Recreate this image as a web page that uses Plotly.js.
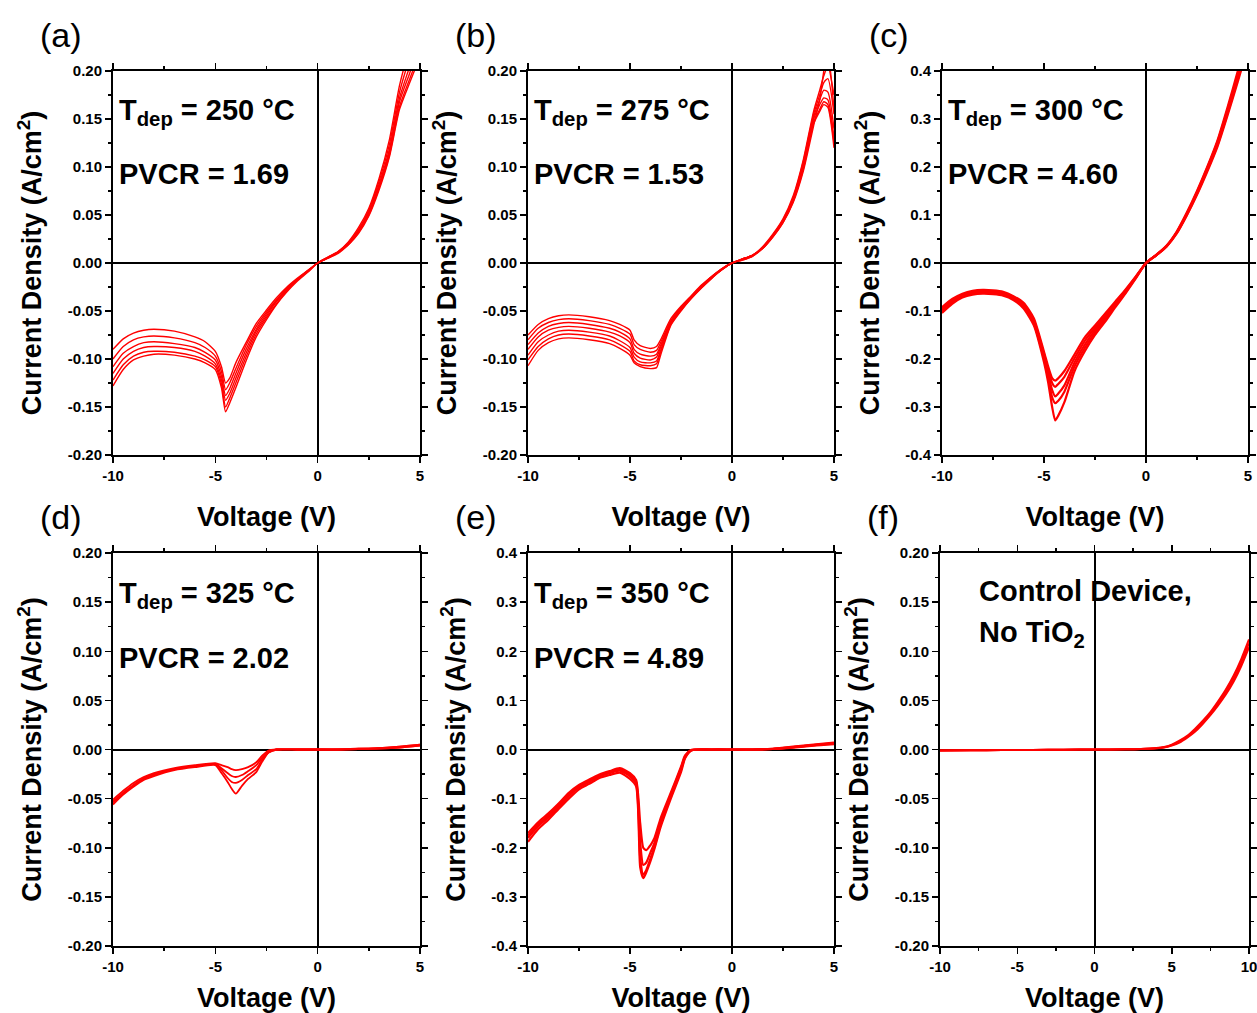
<!DOCTYPE html>
<html>
<head>
<meta charset="utf-8">
<script src="https://cdn.plot.ly/plotly-3.0.1.min.js"></script>
<style>html,body{margin:0;padding:0;background:#fff;}#chart{width:1257px;height:1013px;}</style>
</head>
<body>
<div id="chart"></div>
<script>
// ---------------- DATA ----------------
// Panel (a) T_dep = 250 C
const a_V = [-10,-9.5,-9,-8.5,-8,-7,-6,-5.5,-5,-4.7,-4.5,-4.3,-4,-3.5,-3,-2.5,-2,-1.5,-1,-0.5,0,0.5,1,1.5,2,2.5,3,3.5,4,4.5,5];
const a_J = [
 [-0.090,-0.079,-0.073,-0.070,-0.069,-0.071,-0.077,-0.082,-0.092,-0.108,-0.125,-0.120,-0.104,-0.083,-0.063,-0.049,-0.036,-0.025,-0.016,-0.008,0,0.006,0.012,0.022,0.037,0.057,0.088,0.128,0.185,0.225,0.26],
 [-0.100,-0.087,-0.080,-0.077,-0.076,-0.078,-0.083,-0.088,-0.097,-0.113,-0.132,-0.125,-0.110,-0.086,-0.066,-0.051,-0.038,-0.026,-0.017,-0.008,0,0.006,0.012,0.021,0.035,0.055,0.085,0.123,0.178,0.215,0.25],
 [-0.108,-0.094,-0.087,-0.083,-0.082,-0.084,-0.088,-0.093,-0.101,-0.118,-0.138,-0.131,-0.115,-0.090,-0.069,-0.053,-0.039,-0.027,-0.017,-0.009,0,0.006,0.011,0.020,0.034,0.053,0.082,0.118,0.172,0.205,0.24],
 [-0.115,-0.100,-0.092,-0.088,-0.087,-0.088,-0.092,-0.097,-0.105,-0.122,-0.143,-0.136,-0.120,-0.094,-0.071,-0.055,-0.040,-0.028,-0.018,-0.009,0,0.005,0.011,0.020,0.033,0.052,0.080,0.115,0.168,0.198,0.23],
 [-0.122,-0.106,-0.097,-0.093,-0.092,-0.093,-0.097,-0.101,-0.108,-0.126,-0.150,-0.141,-0.125,-0.098,-0.074,-0.057,-0.042,-0.029,-0.018,-0.009,0,0.005,0.011,0.019,0.032,0.050,0.078,0.112,0.163,0.192,0.22],
 [-0.128,-0.111,-0.101,-0.097,-0.095,-0.096,-0.100,-0.104,-0.111,-0.130,-0.155,-0.146,-0.130,-0.102,-0.077,-0.059,-0.043,-0.030,-0.019,-0.010,0,0.005,0.010,0.019,0.031,0.049,0.076,0.110,0.160,0.188,0.215]
];
// Panel (b) T_dep = 275 C
const b_V = [-10,-9.5,-9,-8.5,-8,-7,-6,-5.5,-5,-4.8,-4.5,-4,-3.7,-3.5,-3,-2.5,-2,-1.5,-1,-0.5,0,0.5,1,1.5,2,2.5,3,3.5,4,4.3,4.5,4.7,5];
const b_J = [
 [-0.075,-0.064,-0.058,-0.055,-0.054,-0.056,-0.060,-0.064,-0.070,-0.080,-0.086,-0.089,-0.087,-0.080,-0.058,-0.045,-0.034,-0.023,-0.014,-0.006,0,0.004,0.008,0.017,0.030,0.046,0.070,0.108,0.158,0.180,0.195,0.205,0.175],
 [-0.080,-0.068,-0.062,-0.059,-0.058,-0.060,-0.064,-0.068,-0.074,-0.085,-0.090,-0.093,-0.091,-0.083,-0.060,-0.046,-0.035,-0.024,-0.014,-0.006,0,0.004,0.008,0.016,0.029,0.045,0.068,0.106,0.155,0.175,0.188,0.192,0.155],
 [-0.085,-0.073,-0.066,-0.063,-0.062,-0.064,-0.068,-0.072,-0.079,-0.090,-0.095,-0.097,-0.095,-0.086,-0.061,-0.047,-0.035,-0.024,-0.015,-0.006,0,0.004,0.008,0.016,0.029,0.044,0.067,0.104,0.152,0.170,0.180,0.178,0.140],
 [-0.090,-0.077,-0.070,-0.067,-0.066,-0.068,-0.072,-0.076,-0.083,-0.094,-0.099,-0.101,-0.098,-0.088,-0.062,-0.048,-0.036,-0.025,-0.015,-0.007,0,0.004,0.008,0.016,0.028,0.044,0.066,0.102,0.150,0.165,0.172,0.170,0.130],
 [-0.096,-0.082,-0.075,-0.071,-0.070,-0.072,-0.076,-0.081,-0.088,-0.098,-0.103,-0.104,-0.102,-0.091,-0.063,-0.049,-0.036,-0.025,-0.015,-0.007,0,0.004,0.008,0.015,0.028,0.043,0.065,0.100,0.147,0.160,0.168,0.165,0.125],
 [-0.101,-0.087,-0.079,-0.075,-0.074,-0.076,-0.080,-0.085,-0.092,-0.102,-0.106,-0.107,-0.105,-0.093,-0.064,-0.049,-0.037,-0.026,-0.016,-0.007,0,0.003,0.007,0.015,0.027,0.042,0.064,0.098,0.145,0.158,0.165,0.162,0.120],
 [-0.107,-0.091,-0.083,-0.079,-0.078,-0.080,-0.084,-0.089,-0.096,-0.104,-0.108,-0.110,-0.109,-0.096,-0.065,-0.050,-0.037,-0.026,-0.016,-0.007,0,0.003,0.007,0.015,0.027,0.042,0.063,0.096,0.143,0.170,0.200,0.220,0.160]
];
// Panel (c) T_dep = 300 C
const c_V = [-10,-9.5,-9,-8.5,-8,-7.5,-7,-6.5,-6,-5.5,-5,-4.8,-4.6,-4.45,-4.3,-4,-3.5,-3,-2.5,-2,-1.5,-1,-0.5,0,0.5,1,1.5,2,2.5,3,3.5,4,4.5,5];
const c_J = [
 [-0.092,-0.075,-0.064,-0.058,-0.056,-0.057,-0.060,-0.069,-0.083,-0.115,-0.185,-0.215,-0.240,-0.245,-0.240,-0.225,-0.190,-0.155,-0.130,-0.105,-0.080,-0.055,-0.028,0,0.017,0.036,0.065,0.105,0.150,0.200,0.255,0.325,0.400,0.480],
 [-0.095,-0.078,-0.066,-0.060,-0.058,-0.059,-0.062,-0.071,-0.086,-0.119,-0.190,-0.222,-0.250,-0.258,-0.252,-0.237,-0.198,-0.162,-0.135,-0.110,-0.083,-0.057,-0.029,0,0.017,0.035,0.064,0.103,0.148,0.198,0.252,0.320,0.394,0.470],
 [-0.098,-0.080,-0.068,-0.062,-0.060,-0.061,-0.064,-0.073,-0.089,-0.122,-0.195,-0.230,-0.265,-0.278,-0.272,-0.255,-0.207,-0.170,-0.140,-0.114,-0.086,-0.059,-0.030,0,0.016,0.035,0.063,0.102,0.146,0.195,0.248,0.316,0.388,0.460],
 [-0.101,-0.082,-0.070,-0.064,-0.062,-0.063,-0.066,-0.075,-0.092,-0.126,-0.200,-0.238,-0.280,-0.292,-0.287,-0.268,-0.215,-0.177,-0.145,-0.118,-0.089,-0.061,-0.031,0,0.016,0.034,0.062,0.100,0.144,0.193,0.245,0.312,0.383,0.455],
 [-0.104,-0.085,-0.072,-0.066,-0.064,-0.065,-0.068,-0.077,-0.095,-0.130,-0.207,-0.248,-0.300,-0.328,-0.318,-0.290,-0.225,-0.184,-0.150,-0.122,-0.092,-0.063,-0.032,0,0.016,0.034,0.061,0.099,0.142,0.190,0.242,0.308,0.378,0.450]
];
// Panel (d) T_dep = 325 C
const d_V = [-10,-9.5,-9,-8.5,-8,-7,-6,-5,-4.7,-4.4,-4.2,-4,-3.7,-3.4,-3,-2.7,-2.4,-2,-1,0,1,2,3,4,5];
const d_J = [
 [-0.051,-0.042,-0.034,-0.028,-0.024,-0.019,-0.016,-0.014,-0.016,-0.018,-0.020,-0.021,-0.020,-0.018,-0.013,-0.006,-0.001,0,0,0,0,0.0005,0.001,0.002,0.004],
 [-0.053,-0.044,-0.036,-0.029,-0.025,-0.020,-0.017,-0.015,-0.019,-0.024,-0.027,-0.028,-0.026,-0.022,-0.016,-0.008,-0.002,0,0,0,0,0.0005,0.001,0.002,0.004],
 [-0.054,-0.045,-0.037,-0.030,-0.026,-0.020,-0.017,-0.015,-0.021,-0.029,-0.033,-0.034,-0.031,-0.026,-0.020,-0.010,-0.003,0,0,0,0,0.0005,0.0015,0.003,0.005],
 [-0.056,-0.046,-0.038,-0.031,-0.027,-0.021,-0.018,-0.016,-0.024,-0.033,-0.040,-0.045,-0.037,-0.030,-0.023,-0.012,-0.003,0,0,0,0,0.001,0.0015,0.003,0.005]
];
// Panel (e) T_dep = 350 C
const e_V = [-10,-9.5,-9,-8.5,-8,-7.5,-7,-6.5,-6,-5.5,-5,-4.7,-4.5,-4.35,-4.2,-4,-3.8,-3.5,-3,-2.5,-2.3,-2,-1,0,1,2,3,4,5];
const e_J = [
 [-0.170,-0.148,-0.130,-0.110,-0.088,-0.072,-0.061,-0.051,-0.044,-0.038,-0.048,-0.062,-0.150,-0.200,-0.205,-0.195,-0.180,-0.140,-0.088,-0.035,-0.012,-0.001,0,0,0,0.001,0.004,0.008,0.011],
 [-0.175,-0.152,-0.134,-0.113,-0.091,-0.074,-0.063,-0.053,-0.046,-0.040,-0.051,-0.066,-0.190,-0.235,-0.230,-0.210,-0.190,-0.147,-0.092,-0.038,-0.014,-0.001,0,0,0,0.001,0.005,0.009,0.012],
 [-0.180,-0.156,-0.138,-0.117,-0.095,-0.077,-0.066,-0.055,-0.048,-0.043,-0.055,-0.070,-0.220,-0.255,-0.245,-0.222,-0.198,-0.153,-0.096,-0.042,-0.016,-0.002,0,0,0,0.0015,0.005,0.009,0.013],
 [-0.188,-0.162,-0.143,-0.121,-0.100,-0.081,-0.070,-0.058,-0.052,-0.047,-0.060,-0.075,-0.240,-0.262,-0.250,-0.228,-0.202,-0.158,-0.100,-0.046,-0.018,-0.002,0,0,0,0.0015,0.006,0.010,0.014]
];
// Panel (f) control device, no TiO2
const f_V = [-10,-8,-6,-4,-2,0,2,3,4,4.5,5,5.5,6,6.5,7,7.5,8,8.5,9,9.5,10];
const f_J = [
 [-0.001,-0.0008,-0.0006,-0.0004,-0.0002,0,0.0002,0.0005,0.0012,0.002,0.004,0.007,0.012,0.018,0.026,0.035,0.045,0.056,0.069,0.085,0.104],
 [-0.001,-0.0008,-0.0006,-0.0004,-0.0002,0,0.0002,0.0005,0.0013,0.0022,0.0045,0.008,0.013,0.0195,0.0275,0.0365,0.047,0.0585,0.072,0.0885,0.108],
 [-0.001,-0.0008,-0.0006,-0.0004,-0.0002,0,0.0002,0.0006,0.0015,0.0025,0.005,0.009,0.014,0.021,0.029,0.038,0.049,0.061,0.075,0.092,0.112]
];

// Tick labels
const xTicks15 = [-10,-5,0,5];          const xTickText15 = ['-10','-5','0','5'];
const xMinor15 = [-7.5,-2.5,2.5];
const xTicks20 = [-10,-5,0,5,10];       const xTickText20 = ['-10','-5','0','5','10'];
const xMinor20 = [-7.5,-2.5,2.5,7.5];
const yTicks02 = [-0.2,-0.15,-0.1,-0.05,0,0.05,0.1,0.15,0.2];
const yTickText02 = ['-0.20','-0.15','-0.10','-0.05','0.00','0.05','0.10','0.15','0.20'];
const yMinor02 = [-0.175,-0.125,-0.075,-0.025,0.025,0.075,0.125,0.175];
const yTicks04 = [-0.4,-0.3,-0.2,-0.1,0,0.1,0.2,0.3,0.4];
const yTickText04 = ['-0.4','-0.3','-0.2','-0.1','0.0','0.1','0.2','0.3','0.4'];
const yMinor04 = [-0.35,-0.25,-0.15,-0.05,0.05,0.15,0.25,0.35];

const panelLetters = ['(a)','(b)','(c)','(d)','(e)','(f)'];
const tempLabels = ['250','275','300','325','350'];
const pvcrLabels = ['1.69','1.53','4.60','2.02','4.89'];

// ---------------- BUILD ----------------
const FONT = 'Liberation Sans, Arial, sans-serif';
const W = 1257, H = 1013;
const colPx = [[113,420],[528,834],[942,1248]];
const colPxF = [940,1249];
const rowPx = [[71,455],[553,946]];

const panels = [
  {V:a_V, J:a_J, xr:[-10,5], yr:[-0.2,0.2], xt:xTicks15, xtt:xTickText15, xm:xMinor15, yt:yTicks02, ytt:yTickText02, ym:yMinor02, lw:1.4},
  {V:b_V, J:b_J, xr:[-10,5], yr:[-0.2,0.2], xt:xTicks15, xtt:xTickText15, xm:xMinor15, yt:yTicks02, ytt:yTickText02, ym:yMinor02, lw:1.4},
  {V:c_V, J:c_J, xr:[-10,5], yr:[-0.4,0.4], xt:xTicks15, xtt:xTickText15, xm:xMinor15, yt:yTicks04, ytt:yTickText04, ym:yMinor04, lw:2.2},
  {V:d_V, J:d_J, xr:[-10,5], yr:[-0.2,0.2], xt:xTicks15, xtt:xTickText15, xm:xMinor15, yt:yTicks02, ytt:yTickText02, ym:yMinor02, lw:1.8},
  {V:e_V, J:e_J, xr:[-10,5], yr:[-0.4,0.4], xt:xTicks15, xtt:xTickText15, xm:xMinor15, yt:yTicks04, ytt:yTickText04, ym:yMinor04, lw:2.2},
  {V:f_V, J:f_J, xr:[-10,10], yr:[-0.2,0.2], xt:xTicks20, xtt:xTickText20, xm:xMinor20, yt:yTicks02, ytt:yTickText02, ym:yMinor02, lw:2.0}
];

const traces = [];
const layout = {
  width: W, height: H,
  margin: {l:0, r:0, t:0, b:0},
  paper_bgcolor: 'white', plot_bgcolor: 'white',
  showlegend: false,
  font: {family: FONT, color: 'black'},
  annotations: []
};

panels.forEach((p, i) => {
  const n = i + 1;
  const xa = n === 1 ? 'x' : 'x' + n;
  const ya = n === 1 ? 'y' : 'y' + n;
  const row = i < 3 ? 0 : 1, col = i % 3;
  const xpx = (i === 5) ? colPxF : colPx[col];
  const ypx = rowPx[row];
  p.J.forEach(js => {
    traces.push({x: p.V, y: js, type: 'scatter', mode: 'lines', xaxis: xa, yaxis: ya,
      line: {color: '#ff0000', width: p.lw, shape: 'spline', smoothing: 0.6}, hoverinfo: 'skip'});
  });
  const common = {
    showline: true, linecolor: 'black', linewidth: 2, mirror: 'ticks',
    ticks: 'outside', ticklen: 6, tickwidth: 1.5, tickcolor: 'black',
    showgrid: false, zeroline: true, zerolinecolor: 'black', zerolinewidth: 2,
    tickfont: {family: FONT, size: 15, weight: 'bold', color: 'black'},
    ticklabeloverflow: 'allow',
    fixedrange: true
  };
  layout['xaxis' + (n === 1 ? '' : n)] = Object.assign({}, common, {
    domain: [xpx[0] / W, xpx[1] / W], anchor: ya, range: p.xr,
    tickmode: 'array', tickvals: p.xt, ticktext: p.xtt,
    minor: {tickmode: 'array', tickvals: p.xm, ticks: 'outside', ticklen: 3, tickwidth: 1.5, tickcolor: 'black', showgrid: false},
    ticklabelstandoff: 0,
    title: {text: 'Voltage (V)', standoff: 24, font: {family: FONT, size: 27, weight: 'bold', color: 'black'}}
  });
  layout['yaxis' + (n === 1 ? '' : n)] = Object.assign({}, common, {
    domain: [1 - ypx[1] / H, 1 - ypx[0] / H], anchor: xa, range: p.yr,
    tickmode: 'array', tickvals: p.yt, ticktext: p.ytt,
    minor: {tickmode: 'array', tickvals: p.ym, ticks: 'outside', ticklen: 3, tickwidth: 1.5, tickcolor: 'black', showgrid: false},
    ticklabelstandoff: 0,
    title: {text: 'Current Density (A/cm<sup>2</sup>)', standoff: 18, font: {family: FONT, size: 27, weight: 'bold', color: 'black'}}
  });
  // panel letter
  layout.annotations.push({
    text: panelLetters[i], xref: 'paper', yref: 'paper',
    x: ((i === 5 ? colPxF[0] : xpx[0]) - 75) / W, y: 1 - (ypx[0] - 36) / H,
    xanchor: 'left', yanchor: 'middle', showarrow: false,
    font: {family: FONT, size: 34, color: 'black'}
  });
  const dx = xa + ' domain', dy = ya + ' domain';
  if (i < 5) {
    layout.annotations.push({
      text: 'T<sub>dep</sub> = ' + tempLabels[i] + ' °C', xref: dx, yref: dy,
      x: 0.012, y: 0.945, xanchor: 'left', yanchor: 'top', showarrow: false,
      font: {family: FONT, size: 29, weight: 'bold', color: 'black'}
    });
    layout.annotations.push({
      text: 'PVCR = ' + pvcrLabels[i], xref: dx, yref: dy,
      x: 0.012, y: 0.732, xanchor: 'left', yanchor: 'middle', showarrow: false,
      font: {family: FONT, size: 29, weight: 'bold', color: 'black'}
    });
  } else {
    layout.annotations.push({
      text: 'Control Device,', xref: dx, yref: dy,
      x: 0.12, y: 0.903, xanchor: 'left', yanchor: 'middle', showarrow: false,
      font: {family: FONT, size: 29, weight: 'bold', color: 'black'}
    });
    layout.annotations.push({
      text: 'No TiO<sub>2</sub>', xref: dx, yref: dy,
      x: 0.12, y: 0.846, xanchor: 'left', yanchor: 'top', showarrow: false,
      font: {family: FONT, size: 29, weight: 'bold', color: 'black'}
    });
  }
});

Plotly.newPlot('chart', traces, layout, {displayModeBar: false, staticPlot: true});
</script>
</body>
</html>
